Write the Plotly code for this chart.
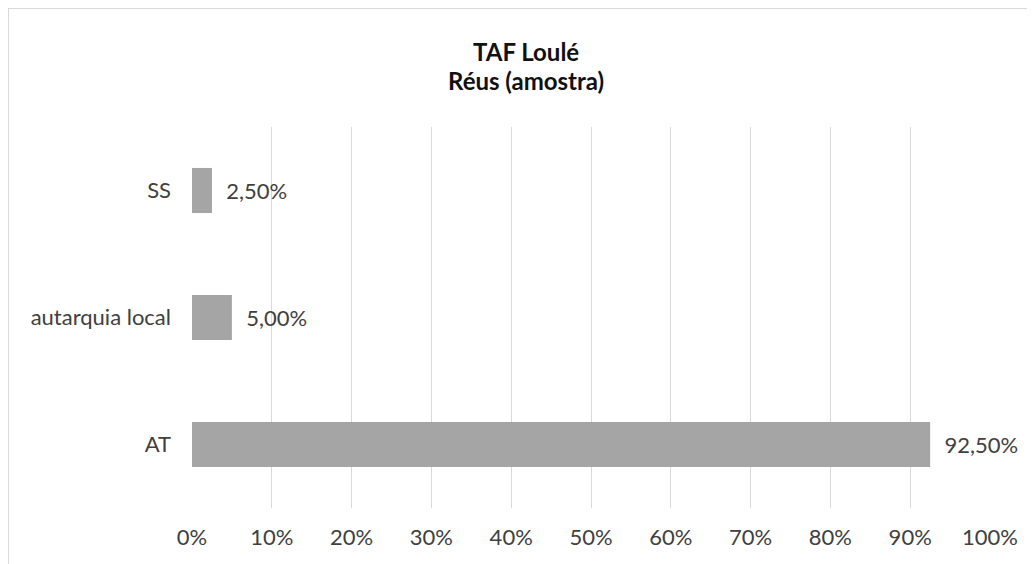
import plotly.graph_objects as go

categories = ["AT", "autarquia local", "SS"]
values = [0.925, 0.05, 0.025]
title_lines = ["TAF Loulé", "Réus (amostra)"]

FONT = "Lato"
TXT = "#404040"
OFF = 8  # page body margin offset

W, H = 1035 - OFF, 564 - OFF
L, R, T, B = 192 - OFF, 45, 127 - OFF, 56
PW, PH = W - L - R, H - T - B

def px_to_paper_x(px):
    return (px - OFF - L) / PW

def px_to_paper_y(py):
    return (H - B - (py - OFF)) / PH

fig = go.Figure()
fig.add_trace(go.Bar(
    y=categories, x=values, orientation="h",
    marker=dict(color="#A5A5A5", line=dict(width=0)),
    width=0.355,
    texttemplate="  %{x:.2%}", textposition="outside",
    textfont=dict(family=FONT, size=22, color=TXT),
    cliponaxis=False, hoverinfo="skip",
))

annotations = []
for i, line in enumerate(title_lines):
    annotations.append(dict(
        text="<b>" + line + "</b>", showarrow=False,
        xref="paper", yref="paper",
        x=px_to_paper_x(526), y=px_to_paper_y(52 + 28 * i),
        xanchor="center", yanchor="middle",
        font=dict(family=FONT, size=24, color="#111111"),
    ))

fig.update_layout(
    width=W, height=H,
    paper_bgcolor="white", plot_bgcolor="white",
    separators=", ",
    margin=dict(l=L, r=R, t=T, b=B),
    showlegend=False,
    font=dict(family=FONT, size=22, color=TXT),
    annotations=annotations,
    xaxis=dict(
        range=[0, 1], dtick=0.1, tickformat=".0%",
        showgrid=True, gridcolor="#D9D9D9", gridwidth=1,
        zeroline=False, showline=False, ticks="",
        tickfont=dict(family=FONT, size=22, color=TXT),
        ticklabelstandoff=14,
    ),
    yaxis=dict(
        showgrid=False, zeroline=False, showline=False, ticks="",
        tickfont=dict(family=FONT, size=22, color=TXT),
        ticklabelstandoff=20,
    ),
    shapes=[dict(
        type="rect", xref="paper", yref="paper",
        x0=px_to_paper_x(8), x1=1.2, y0=-0.3, y1=px_to_paper_y(8),
        line=dict(color="#D9D9D9", width=2), fillcolor="rgba(0,0,0,0)",
        layer="below",
    )],
)

fig.write_html("out.html")
